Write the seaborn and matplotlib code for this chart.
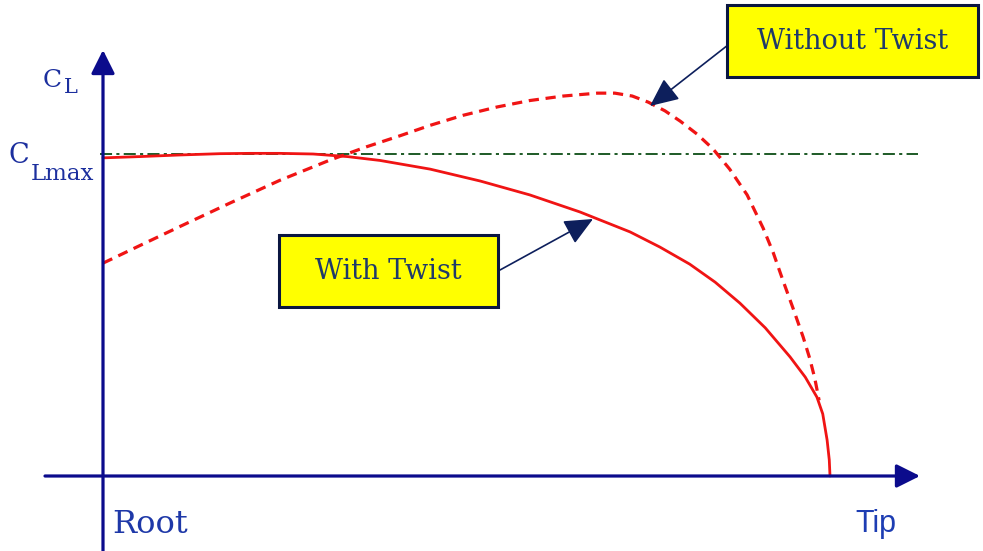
import matplotlib
matplotlib.use("Agg")
import matplotlib.pyplot as plt
from matplotlib.patches import Rectangle
import numpy as np
import pandas as pd
import seaborn as sns

# ---------------- data (span fraction root->tip, CL / CLmax) ----------------
span_twist = [0.000, 0.051, 0.106, 0.161, 0.202, 0.243, 0.289, 0.336, 0.381,
              0.450, 0.519, 0.587, 0.656, 0.725, 0.766, 0.807, 0.842, 0.876,
              0.911, 0.945, 0.966, 0.982, 0.990, 0.996, 0.999, 1.000]
cl_twist = [0.988, 0.992, 0.997, 1.001, 1.002, 1.002, 1.000, 0.992, 0.980,
            0.953, 0.916, 0.873, 0.820, 0.758, 0.711, 0.658, 0.602, 0.537,
            0.460, 0.370, 0.307, 0.245, 0.193, 0.112, 0.050, 0.000]

span_notwist = [0.000, 0.051, 0.106, 0.175, 0.243, 0.312, 0.362, 0.409, 0.450,
                0.495, 0.542, 0.587, 0.633, 0.680, 0.704, 0.728, 0.750, 0.773,
                0.794, 0.817, 0.839, 0.862, 0.886, 0.908, 0.922, 0.935, 0.949,
                0.963, 0.972, 0.979, 0.985]
cl_notwist = [0.661, 0.716, 0.775, 0.848, 0.918, 0.981, 1.022, 1.057, 1.089,
              1.120, 1.146, 1.166, 1.180, 1.189, 1.189, 1.180, 1.161, 1.134,
              1.102, 1.062, 1.016, 0.953, 0.873, 0.770, 0.693, 0.609, 0.522,
              0.432, 0.366, 0.304, 0.235]

clmax_span = [-0.004, 1.121]
clmax_value = [1.0, 1.0]

label_c = "C"
label_l = "L"
label_lmax = "Lmax"
label_root = "Root"
label_tip = "Tip"
label_with = "With Twist"
label_without = "Without Twist"

# ---------------- layout helpers ----------------
W, H = 983, 551
X0, Y0 = 103, 476          # pixel origin (root, CL=0)
XS, YS = 727.0, 322.0      # pixels per unit


def px(xp, yp):
    return (xp - X0) / XS, (Y0 - yp) / YS


sns.set_theme(style="white")
plt.rcParams["font.family"] = ["DejaVu Serif"]

fig = plt.figure(figsize=(W / 100, H / 100), dpi=100)
ax = fig.add_axes([0, 0, 1, 1])
xl0, yl0 = px(0, H)
xl1, yl1 = px(W, 0)
ax.set_xlim(xl0, xl1)
ax.set_ylim(yl0, yl1)
ax.axis("off")

navy = "#0b0b8c"
red = "#f01414"

# CLmax reference line
ax.plot(clmax_span, clmax_value, color="#1d5a26", lw=1.4,
        linestyle=(0, (6.2, 2.2, 1.6, 2.2)), zorder=2)

df_t = pd.DataFrame({"span": span_twist, "cl": cl_twist})
df_n = pd.DataFrame({"span": span_notwist, "cl": cl_notwist})
sns.lineplot(data=df_n, x="span", y="cl", ax=ax, color=red, lw=2.3,
             estimator=None, sort=False, zorder=3)
ax.lines[-1].set_linestyle((0, (3.2, 2.1)))
sns.lineplot(data=df_t, x="span", y="cl", ax=ax, color=red, lw=2.0,
             estimator=None, sort=False, zorder=4)
for ln in ax.lines:
    ln.set_solid_joinstyle("round")
    ln.set_dash_joinstyle("round")

# axes arrows
arrow_kw = dict(arrowstyle="-|>,head_length=0.72,head_width=0.36",
                mutation_scale=20, color=navy, lw=2.3, shrinkA=0, shrinkB=0)
ax.annotate("", xy=px(920, Y0), xytext=px(45, Y0), arrowprops=arrow_kw, zorder=5)
ax.annotate("", xy=px(X0, 50), xytext=px(X0, 551), arrowprops=arrow_kw, zorder=5)

txt_blue = "#1c2f9e"
# C_L label
ax.text(*px(43, 87), label_c, fontsize=18, color=txt_blue, ha="left",
        va="baseline")
ax.text(*px(64, 93), label_l, fontsize=15, color=txt_blue, ha="left",
        va="baseline")
# C_Lmax label
ax.text(*px(9, 163), label_c, fontsize=19.5, color=txt_blue, ha="left",
        va="baseline")
ax.text(*px(31, 180), label_lmax, fontsize=16.5, color=txt_blue, ha="left",
        va="baseline")

ax.text(*px(112, 533), label_root, fontsize=23, color="#1e38a8", ha="left",
        va="baseline")
ax.text(*px(855, 532), label_tip, fontsize=22, color="#1d3db3", ha="left",
        va="baseline", family=["Liberation Sans"])

# callout boxes
box_txt = "#1f3a6a"
for (x1, y1, x2, y2), lab in [((727, 5, 978, 77), label_without),
                              ((279, 235, 498, 307), label_with)]:
    a = px(x1, y2)
    b = px(x2, y1)
    ax.add_patch(Rectangle(a, b[0] - a[0], b[1] - a[1], facecolor="#ffff00",
                           edgecolor="#0a1640", lw=2.2, zorder=6))
    ax.text(*px((x1 + x2) / 2, (y1 + y2) / 2 + 1), lab, fontsize=19.5,
            color=box_txt, ha="center", va="center", zorder=7)

call_kw = dict(arrowstyle="-|>,head_length=1.1,head_width=0.5",
               mutation_scale=16, color="#0d1f5c", lw=1.2, shrinkA=0, shrinkB=0)
ax.annotate("", xy=px(593, 219), xytext=px(500, 270), arrowprops=call_kw, zorder=5)
ax.annotate("", xy=px(650, 106), xytext=px(728, 45), arrowprops=call_kw, zorder=5)

fig.savefig("out.png", dpi=100, facecolor="white")
